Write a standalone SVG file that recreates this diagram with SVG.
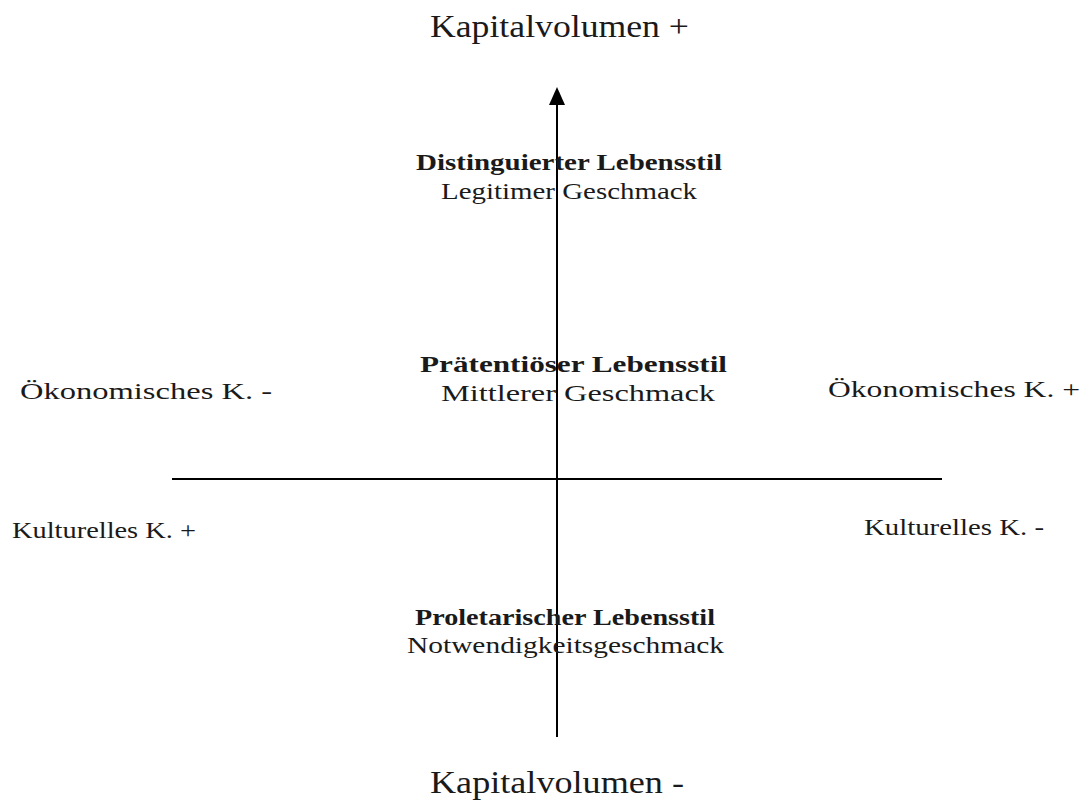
<svg xmlns="http://www.w3.org/2000/svg" width="1085" height="810" viewBox="0 0 1085 810">
<style>
text{font-family:"Liberation Serif","DejaVu Serif",serif;fill:#1a1a1a}
.t{font-size:31px}
.b{font-size:23.5px;font-weight:bold}
.n{font-size:23.5px}
.ax{stroke:#000;stroke-width:2;fill:none}
</style>
<rect width="1085" height="810" fill="#fff"/>
<g id="connectors">
<line class="ax" x1="172" y1="479" x2="942" y2="479"/>
<line class="ax" x1="557" y1="737" x2="557" y2="104"/>
<path d="M549,105L557,87L565,105z" fill="#000"/>
</g>
<g id="top-label"><text class="t" x="430" y="37" textLength="259" lengthAdjust="spacingAndGlyphs">Kapitalvolumen +</text></g>
<g id="bottom-label"><text class="t" x="430" y="793" textLength="254" lengthAdjust="spacingAndGlyphs">Kapitalvolumen -</text></g>
<g id="distinguiert">
<text class="b" x="416" y="170" textLength="306" lengthAdjust="spacingAndGlyphs">Distinguierter Lebensstil</text>
<text class="n" x="441" y="199" textLength="256" lengthAdjust="spacingAndGlyphs">Legitimer Geschmack</text>
</g>
<g id="praetentioes">
<text class="b" x="420" y="372" textLength="307" lengthAdjust="spacingAndGlyphs">Prätentiöser Lebensstil</text>
<text class="n" x="441" y="401" textLength="274" lengthAdjust="spacingAndGlyphs">Mittlerer Geschmack</text>
</g>
<g id="proletarisch">
<text class="b" x="415" y="625" textLength="300" lengthAdjust="spacingAndGlyphs">Proletarischer Lebensstil</text>
<text class="n" x="407" y="653" textLength="317" lengthAdjust="spacingAndGlyphs">Notwendigkeitsgeschmack</text>
</g>
<g id="oek-minus"><text class="n" x="20" y="399" textLength="252" lengthAdjust="spacingAndGlyphs">Ökonomisches K. -</text></g>
<g id="oek-plus"><text class="n" x="828" y="397" textLength="252" lengthAdjust="spacingAndGlyphs">Ökonomisches K. +</text></g>
<g id="kult-plus"><text class="n" x="12" y="538" textLength="184" lengthAdjust="spacingAndGlyphs">Kulturelles K. +</text></g>
<g id="kult-minus"><text class="n" x="864" y="535" textLength="180" lengthAdjust="spacingAndGlyphs">Kulturelles K. -</text></g>
</svg>
